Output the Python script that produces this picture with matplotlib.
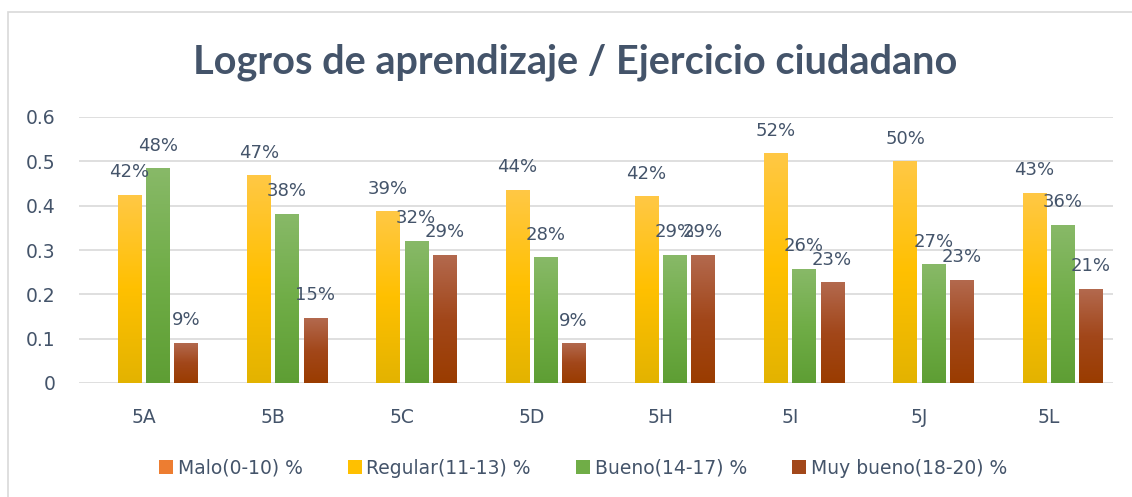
import numpy as np
import matplotlib
matplotlib.use("Agg")
import matplotlib.pyplot as plt
from matplotlib.colors import LinearSegmentedColormap
from matplotlib.patches import Rectangle

categories = ["5A", "5B", "5C", "5D", "5H", "5I", "5J", "5L"]
series_names = ["Malo(0-10) %", "Regular(11-13) %", "Bueno(14-17) %", "Muy bueno(18-20) %"]
malo = [0, 0, 0, 0, 0, 0, 0, 0]
regular = [0.424, 0.468, 0.387, 0.435, 0.420, 0.517, 0.499, 0.428]
bueno = [0.483, 0.381, 0.320, 0.282, 0.288, 0.257, 0.267, 0.356]
muy_bueno = [0.090, 0.146, 0.288, 0.088, 0.288, 0.226, 0.232, 0.212]
yticks = [0, 0.1, 0.2, 0.3, 0.4, 0.5, 0.6]
ytick_labels = ["0", "0.1", "0.2", "0.3", "0.4", "0.5", "0.6"]

# gradient stops (top, middle, bottom)
grads = [
    ["#F4A26A", "#ED7D31", "#D86A1E"],
    ["#FFC845", "#FFC000", "#E3B300"],
    ["#88B968", "#70AD47", "#5E9E34"],
    ["#B3694E", "#A2471A", "#9A3C00"],
]

plt.rcParams["font.family"] = ["DejaVu Sans"]
text_col = "#44546A"
fs = 13.5

fig = plt.figure(figsize=(11.32, 4.97), dpi=100)
fig.patches.append(Rectangle((8 / 1132, -0.1), 1.2, (497 - 12) / 497 + 0.1,
                             transform=fig.transFigure, fill=False,
                             edgecolor="#D9D9D9", linewidth=1.2))
ax = fig.add_axes([79 / 1132, 1 - 383 / 497, (1113 - 79) / 1132, (383 - 117) / 497])

data = [malo, regular, bueno, muy_bueno]
x = np.arange(len(categories))
width = 0.18
step = 0.218
offsets = [(-1.5 + i) * step for i in range(4)]

ax.set_ylim(0, 0.6)
ax.set_xlim(-0.5, len(categories) - 0.5)

for i, (vals, name) in enumerate(zip(data, series_names)):
    bars = ax.bar(x + offsets[i], vals, width, color=grads[i][1], label=name, zorder=2)
    cmap = LinearSegmentedColormap.from_list("g%d" % i, grads[i][::-1])
    grad = np.linspace(0, 1, 256).reshape(-1, 1)
    for b, v in zip(bars, vals):
        if v <= 0:
            continue
        x0, y0 = b.get_x(), b.get_y()
        w, h = b.get_width(), b.get_height()
        ax.imshow(grad, extent=[x0, x0 + w, y0, y0 + h], origin="lower",
                  cmap=cmap, aspect="auto", zorder=3)
        ax.annotate(f"{round(v * 100):.0f}%", (x0 + w / 2, y0 + h),
                    xytext=(0, 10), textcoords="offset points",
                    ha="center", va="bottom", fontsize=13, color=text_col, zorder=4)

ax.set_ylim(0, 0.6)
ax.set_xlim(-0.5, len(categories) - 0.5)
ax.set_yticks(yticks)
ax.set_yticklabels(ytick_labels)
ax.set_xticks(x)
ax.set_xticklabels(categories)
ax.tick_params(axis="both", length=0, labelsize=fs, colors=text_col)
ax.tick_params(axis="y", pad=17)
ax.tick_params(axis="x", pad=18)
ax.grid(axis="y", color="#D9D9D9", linewidth=1.2, zorder=0)
ax.set_axisbelow(True)
for s in ax.spines.values():
    s.set_visible(False)

fig.text(575 / 1132, 1 - 62 / 497, "Logros de aprendizaje / Ejercicio ciudadano",
         ha="center", va="center", fontsize=28.5, fontweight="bold", color=text_col,
         family=["Lato", "DejaVu Sans"])

leg = fig.legend(loc="center", bbox_to_anchor=(583 / 1132, 1 - 468 / 497), ncol=4,
                 frameon=False, fontsize=fs, handlelength=0.75, handleheight=0.75,
                 handletextpad=0.25, columnspacing=2.4, labelcolor=text_col)

fig.savefig("out.png", dpi=100)
